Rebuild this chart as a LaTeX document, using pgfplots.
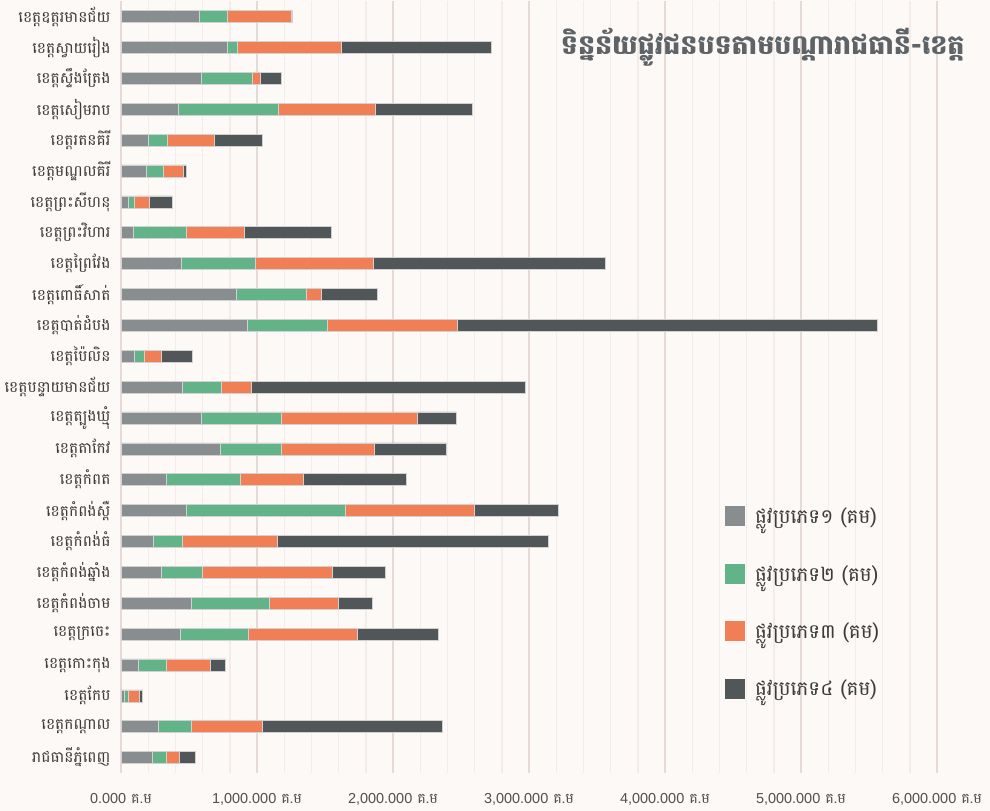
\documentclass[border=0pt]{standalone}
\usepackage{fontspec}
\usepackage{pgfplots}
\usepackage{pgfplotstable}
\pgfplotsset{compat=1.18}
\setmainfont[Script=Khmer]{Battambang}
\newfontfamily\numfont{Liberation Sans}

\definecolor{cone}{HTML}{888D90}
\definecolor{ctwo}{HTML}{62B488}
\definecolor{cthree}{HTML}{F07F55}
\definecolor{cfour}{HTML}{515658}
\definecolor{bgcol}{HTML}{FCF9F6}
\definecolor{gridmaj}{HTML}{E6DAD7}
\definecolor{gridmin}{HTML}{F3ECE9}
\definecolor{labcol}{HTML}{3C3C3C}
\definecolor{titlecol}{HTML}{5D6366}

\newcommand{\tl}[1]{{\numfont #1}\ គ.ម}

% road length per province, km (type 1..4), top row first
\pgfplotstableread{
idx t1 t2 t3 t4
0 576 208 468 5
1 782 73 765 1105
2 591 375 61 152
3 422 732 719 708
4 201 140 343 358
5 189 122 145 22
6 54 46 108 167
7 91 389 424 643
8 444 544 867 1709
9 848 517 106 411
10 929 588 954 3088
11 96 78 120 231
12 451 287 218 2015
13 593 583 1005 282
14 730 451 682 532
15 333 544 466 758
16 480 1170 951 615
17 238 215 699 1990
18 299 299 958 390
19 517 574 510 245
20 436 503 801 596
21 130 201 323 116
22 25 29 81 24
23 275 242 520 1326
24 230 103 93 118
}\roads

\begin{document}
\begin{tikzpicture}
\useasboundingbox (0,0) rectangle (990bp,811bp);
\fill[bgcol] (0,0) rectangle (990bp,811bp);
\begin{axis}[
    at={(121bp,38bp)}, anchor=south west,
    scale only axis, width=816bp, height=771.8bp,
    xbar stacked, bar width=0.39,
    y dir=reverse, ymin=-0.5, ymax=24.5,
    xmin=0, xmax=6000,
    ytick={0,...,24},
    yticklabels={ខេត្តឧត្តរមានជ័យ, ខេត្តស្វាយរៀង, ខេត្តស្ទឹងត្រែង, ខេត្តសៀមរាប, ខេត្តរតនគិរី,
        ខេត្តមណ្ឌលគិរី, ខេត្តព្រះសីហនុ, ខេត្តព្រះវិហារ, ខេត្តព្រៃវែង, ខេត្តពោធិ៍សាត់,
        ខេត្តបាត់ដំបង, ខេត្តប៉ៃលិន, ខេត្តបន្ទាយមានជ័យ, ខេត្តត្បូងឃ្មុំ, ខេត្តតាកែវ,
        ខេត្តកំពត, ខេត្តកំពង់ស្ពឺ, ខេត្តកំពង់ធំ, ខេត្តកំពង់ឆ្នាំង, ខេត្តកំពង់ចាម,
        ខេត្តក្រចេះ, ខេត្តកោះកុង, ខេត្តកែប, ខេត្តកណ្ដាល, រាជធានីភ្នំពេញ},
    xtick={0,1000,...,6000},
    xticklabels={\tl{0.000}, \tl{1,000.000}, \tl{2,000.000}, \tl{3,000.000},
        \tl{4,000.000}, \tl{5,000.000}, \tl{6,000.000}},
    minor x tick num=4,
    xmajorgrids, xminorgrids,
    major grid style={draw=gridmaj, line width=1.6bp},
    minor grid style={draw=gridmin, line width=1.4bp},
    axis line style={draw=none},
    major tick style={draw=none}, minor tick style={draw=none},
    yticklabel style={font=\fontsize{15.5}{17}\selectfont, text=labcol, xshift=-7bp},
    xticklabel style={font=\fontsize{14.5}{16}\selectfont, text=labcol!90!white, yshift=-17bp},
    legend style={at={(0.74,0.3465)}, anchor=north west, draw=none, fill=none,
        inner sep=0pt, font=\fontsize{20}{22}\selectfont, text=labcol, row sep=36bp,
        /tikz/every odd column/.append style={column sep=8bp}},
    legend cell align=left,
    legend image code/.code={\path[#1, draw=none] (0bp,-10bp) rectangle (20bp,10bp);},
    every axis plot/.append style={draw=black!18, line width=0.6bp},
]
\addplot[fill=cone] table[x=t1, y=idx] {\roads};
\addlegendentry{ផ្លូវប្រភេទ១ (គម)}
\addplot[fill=ctwo] table[x=t2, y=idx] {\roads};
\addlegendentry{ផ្លូវប្រភេទ២ (គម)}
\addplot[fill=cthree] table[x=t3, y=idx] {\roads};
\addlegendentry{ផ្លូវប្រភេទ៣ (គម)}
\addplot[fill=cfour] table[x=t4, y=idx] {\roads};
\addlegendentry{ផ្លូវប្រភេទ៤ (គម)}
\end{axis}
\node[anchor=east, text=titlecol, font=\fontsize{27}{30}\selectfont\bfseries] at (968bp,764bp)
    {ទិន្នន័យផ្លូវជនបទតាមបណ្ដារាជធានី-ខេត្ត};
\end{tikzpicture}
\end{document}
